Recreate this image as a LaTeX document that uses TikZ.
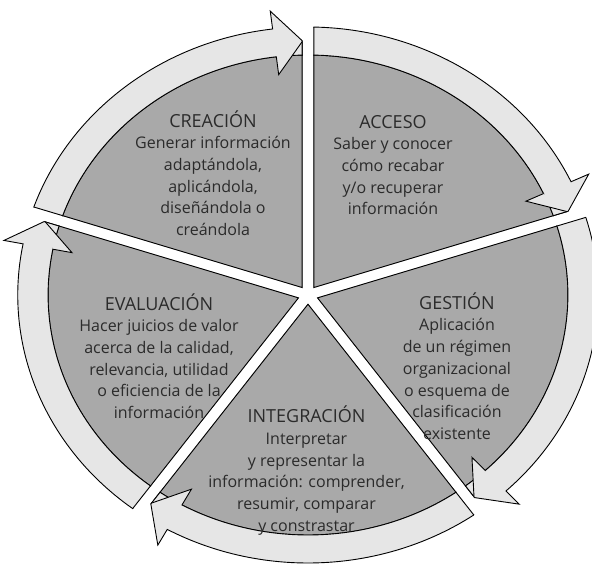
\documentclass[tikz,border=0pt]{standalone}
\usepackage{fontspec}
\setmainfont{Open Sans}
\definecolor{sectgray}{HTML}{A9A9A9}
\definecolor{ringgray}{HTML}{E6E6E6}
\definecolor{txtgray}{HTML}{2B2B2B}
\tikzset{sect/.style={fill=sectgray},
  ring/.style={fill=ringgray},
  edge/.style={line width=0.9pt,line join=miter,draw=black},
  lbl/.style={align=center,text=txtgray,font=\fontsize{16}{21.7}\selectfont,inner sep=0pt}}
\newcommand{\ttl}[1]{{\fontsize{18}{21.7}\selectfont #1}}
% wedge of one sector (gap half width 5), and its curved arrow
\newcommand{\wedgepath}[1]{({#1-36}:8.51) -- +(#1:450) -- +({#1-36}:560) -- +({#1-72}:450) -- cycle}
\newcommand{\arrowpath}[2]{({#1+3}:268) arc[start angle={#1+3},end angle={#2+7},radius=268] -- ({#2+7}:286)
  -- ({#2+asin(5/254)}:254) -- ({#2+asin(5/240)}:240) arc[start angle={#2+asin(5/240)},end angle={#1+3},radius=240] -- cycle}

\begin{document}
\begin{tikzpicture}[x=1pt,y=1pt]
\useasboundingbox (-308,-268) rectangle (284,295);
\begin{scope}[xscale=1.083]
\foreach \a in {90,18,-54,-126,162}{
  \pgfmathsetmacro{\b}{\a-72}
  \begin{scope}
    \clip \wedgepath{\a};
    \fill[sect] (0,0) circle (240);
    \begin{scope} \clip (0,0) circle (240); \draw[edge,line width=1.8pt] \wedgepath{\a}; \end{scope}
    \draw[edge] (0,0) circle (240);
    \filldraw[ring,edge] \arrowpath{\a}{\b};
    \begin{scope} \clip \arrowpath{\a}{\b}; \draw[edge,line width=1.8pt] \wedgepath{\a}; \end{scope}
    \filldraw[ring,edge] ({\b+7}:240) -- ({\b+7}:222) -- ({\b+asin(5/254)}:254);
  \end{scope}}
\end{scope}
\node[lbl] (creacion) at (-95,122) {\ttl{CREACIÓN}\\Generar información\\adaptándola,\\aplicándola,\\diseñándola o\\creándola};
\node[lbl] (acceso) at (85,130) {\ttl{ACCESO}\\Saber y conocer\\cómo recabar\\y/o recuperar\\información};
\node[lbl] (evaluacion) at (-149,-61) {\ttl{EVALUACIÓN}\\Hacer juicios de valor\\acerca de la calidad,\\relevancia, utilidad\\o eficiencia de la\\información};
\node[lbl] (gestion) at (149,-71) {\ttl{GESTIÓN}\\Aplicación\\de un régimen\\organizacional\\o esquema de\\clasificación\\existente};
\node[lbl] (integracion) at (-1.5,-175.5) {\ttl{INTEGRACIÓN}\\Interpretar\\y representar la\\información: comprender,\\resumir, comparar\\y constrastar};
\end{tikzpicture}
\end{document}
